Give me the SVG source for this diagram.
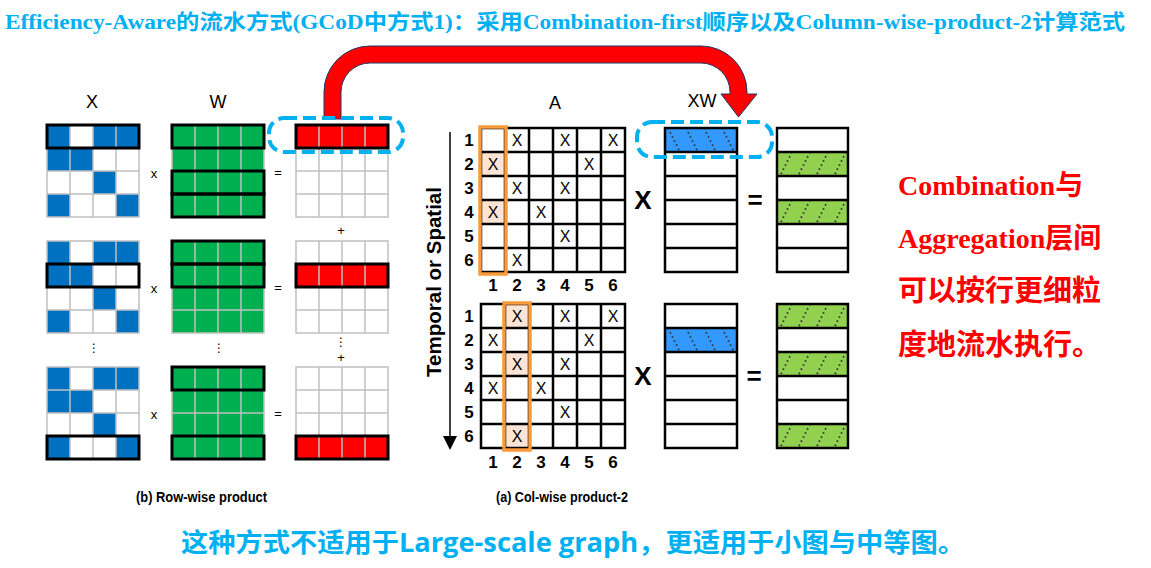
<svg xmlns="http://www.w3.org/2000/svg" xmlns:xlink="http://www.w3.org/1999/xlink" width="1151" height="568" viewBox="0 0 1151 568">
<style>
.lbl{font-family:"Liberation Sans",Arial,sans-serif;font-size:18px;fill:#000;text-anchor:middle}
.op{font-family:"Liberation Sans",Arial,sans-serif;font-size:13px;text-anchor:middle;dominant-baseline:central}
.dots{font-family:"DejaVu Sans",sans-serif;font-size:12px;text-anchor:middle;dominant-baseline:central;fill:#000}
.out{fill:none;stroke:#000;stroke-width:3}
.ax{font-family:"Liberation Sans",Arial,sans-serif;font-size:16px;text-anchor:middle;dominant-baseline:central}
.num{font-family:"Liberation Sans",Arial,sans-serif;font-size:17px;font-weight:bold;text-anchor:middle;dominant-baseline:central}
.dash{fill:none;stroke:#00B0F0;stroke-width:4;stroke-dasharray:13 6}
.big{font-family:"Liberation Sans",Arial,sans-serif;font-size:26px;font-weight:bold;text-anchor:middle;dominant-baseline:central}
.red{font-weight:bold;fill:#FF0000;font-size:28px}
.cap{font-family:"Liberation Sans",Arial,sans-serif;font-size:14.5px;font-weight:bold;fill:#000}
.hl{fill:#FCE4D6}
.org{fill:none;stroke:#F79A3A;stroke-width:3.5}
</style>
<defs>
<g id="g4" fill="none" stroke="#C0C0C0" stroke-width="1.5">
<rect x="0" y="0" width="92" height="92"/>
<path d="M23,0V92M46,0V92M69,0V92M0,23H92M0,46H92M0,69H92"/>
</g>
<g id="xb" fill="#0070C0">
<rect x="0" y="0" width="23" height="23"/><rect x="46" y="0" width="23" height="23"/><rect x="69" y="0" width="23" height="23"/>
<rect x="0" y="23" width="23" height="23"/><rect x="23" y="23" width="23" height="23"/>
<rect x="46" y="46" width="23" height="23"/>
<rect x="0" y="69" width="23" height="23"/><rect x="69" y="69" width="23" height="23"/>
</g>
<g id="ag">
<rect x="0" y="0" width="144" height="144" fill="none" stroke="#000" stroke-width="2.5"/>
<path d="M24,0V144M48,0V144M72,0V144M96,0V144M120,0V144M0,24H144M0,48H144M0,72H144M0,96H144M0,120H144" fill="none" stroke="#000" stroke-width="2.5"/>
<text class="ax" x="36" y="12">X</text><text class="ax" x="84" y="12">X</text><text class="ax" x="132" y="12">X</text>
<text class="ax" x="12" y="36">X</text><text class="ax" x="108" y="36">X</text>
<text class="ax" x="36" y="60">X</text><text class="ax" x="84" y="60">X</text>
<text class="ax" x="12" y="84">X</text><text class="ax" x="60" y="84">X</text>
<text class="ax" x="84" y="108">X</text>
<text class="ax" x="36" y="132">X</text>
</g>
<g id="c6" fill="none" stroke="#000" stroke-width="2.5">
<rect x="0" y="0" width="72" height="144"/>
<path d="M0,24H72M0,48H72M0,72H72M0,96H72M0,120H72"/>
</g>
<g id="rl" class="num">
<text x="0" y="12">1</text><text x="0" y="36">2</text><text x="0" y="60">3</text><text x="0" y="84">4</text><text x="0" y="108">5</text><text x="0" y="132">6</text>
</g>
<g id="cl" class="num">
<text x="12" y="0">1</text><text x="36" y="0">2</text><text x="60" y="0">3</text><text x="84" y="0">4</text><text x="108" y="0">5</text><text x="132" y="0">6</text>
</g>
<pattern id="hb" patternUnits="userSpaceOnUse" width="18" height="24">
<rect width="18" height="24" fill="#3399FF"/>
<line x1="3" y1="0" x2="15" y2="24" stroke="#333" stroke-width="1.8" stroke-dasharray="1.6 3"/>
</pattern>
<pattern id="hg" patternUnits="userSpaceOnUse" width="18" height="24">
<rect width="18" height="24" fill="#92D050"/>
<line x1="15" y1="0" x2="3" y2="24" stroke="#333" stroke-width="1.8" stroke-dasharray="1.6 3"/>
</pattern>
</defs>
<rect width="1151" height="568" fill="#fff"/>

<g id="title">
<text x="5" y="29" textLength="1120" lengthAdjust="spacingAndGlyphs" style="font-family:'Liberation Serif','Noto Sans CJK SC',serif;font-size:21px;font-weight:bold;fill:#00B0F0">Efficiency-Aware的流水方式(GCoD中方式1)：采用Combination-first顺序以及Column-wise-product-2计算范式</text>
</g>

<g id="connectors">
<path id="red-arrow" d="M324,119 L324,92 A46,46 0 0 1 370,46 L701,46 A46,46 0 0 1 747,92 L747,94 L757,94 L738.5,117 L721,94 L730,94 L730,92 A29,29 0 0 0 701,63 L370,63 A29,29 0 0 0 341,92 L341,119 Z" fill="#FF0000" stroke="#1F3864" stroke-width="1"/>
<g id="time-axis">
<line x1="450" y1="132" x2="450" y2="437" stroke="#000" stroke-width="1.5"/>
<polygon points="443,436 457,436 450,450" fill="#000"/>
</g>
</g>

<g id="row-wise">
<text class="lbl" x="92" y="108">X</text>
<text class="lbl" x="218" y="108">W</text>
<g id="set1">
<rect x="47" y="125" width="92" height="92" fill="#fff"/><use xlink:href="#xb" x="47" y="125"/><use xlink:href="#g4" x="47" y="125"/>
<rect class="out" x="47" y="125" width="92" height="23"/>
<rect x="172" y="125" width="92" height="92" fill="#00B050"/><use xlink:href="#g4" x="172" y="125"/>
<rect class="out" x="172" y="125" width="92" height="23"/><rect class="out" x="172" y="171" width="92" height="23"/><rect class="out" x="172" y="194" width="92" height="23"/>
<rect x="296" y="125" width="92" height="23" fill="#FF0000"/><use xlink:href="#g4" x="296" y="125"/>
<rect class="out" x="296" y="125" width="92" height="23"/>
<text class="op" x="154" y="173">x</text><text class="op" x="278" y="172">=</text>
</g>
<text class="op" x="341" y="230">+</text>
<g id="set2">
<rect x="47" y="241" width="92" height="92" fill="#fff"/><use xlink:href="#xb" x="47" y="241"/><use xlink:href="#g4" x="47" y="241"/>
<rect class="out" x="47" y="264" width="92" height="23"/>
<rect x="172" y="241" width="92" height="92" fill="#00B050"/><use xlink:href="#g4" x="172" y="241"/>
<rect class="out" x="172" y="241" width="92" height="23"/><rect class="out" x="172" y="264" width="92" height="23"/>
<rect x="296" y="264" width="92" height="23" fill="#FF0000"/><use xlink:href="#g4" x="296" y="241"/>
<rect class="out" x="296" y="264" width="92" height="23"/>
<text class="op" x="154" y="288">x</text><text class="op" x="278" y="287">=</text>
</g>
<text class="dots" x="94" y="348">⋮</text>
<text class="dots" x="219" y="348">⋮</text>
<text class="dots" x="341" y="342">⋮</text>
<text class="op" x="341" y="357">+</text>
<g id="set3">
<rect x="47" y="367" width="92" height="92" fill="#fff"/><use xlink:href="#xb" x="47" y="367"/><use xlink:href="#g4" x="47" y="367"/>
<rect class="out" x="47" y="436" width="92" height="23"/>
<rect x="172" y="367" width="92" height="92" fill="#00B050"/><use xlink:href="#g4" x="172" y="367"/>
<rect class="out" x="172" y="367" width="92" height="23"/><rect class="out" x="172" y="436" width="92" height="23"/>
<rect x="296" y="436" width="92" height="23" fill="#FF0000"/><use xlink:href="#g4" x="296" y="367"/>
<rect class="out" x="296" y="436" width="92" height="23"/>
<text class="op" x="154" y="414">x</text><text class="op" x="278" y="413">=</text>
</g>
<rect class="dash" x="269" y="118" width="134" height="34" rx="15"/>
<text class="cap" x="136" y="502" textLength="131" lengthAdjust="spacingAndGlyphs">(b) Row-wise product</text>
</g>

<g id="col-wise">
<text class="lbl" x="555" y="109">A</text>
<text class="lbl" x="702" y="107">XW</text>
<text transform="translate(433,282) rotate(-90)" x="0" y="0" style="font-family:'Liberation Sans',Arial,sans-serif;font-size:20.5px;font-weight:bold;text-anchor:middle;dominant-baseline:central">Temporal or Spatial</text>
<g id="step1">
<rect class="hl" x="481" y="152" width="24" height="24"/><rect class="hl" x="481" y="200" width="24" height="24"/>
<use xlink:href="#ag" x="481" y="128"/>
<rect class="org" x="480" y="127" width="26" height="147"/>
<use xlink:href="#rl" x="469" y="128"/>
<use xlink:href="#cl" x="481" y="285"/>
<text class="big" x="643" y="200">X</text>
<rect x="0" y="0" width="72" height="24" fill="url(#hb)" transform="translate(665,128)"/>
<use xlink:href="#c6" x="665" y="128"/>
<rect class="dash" x="637" y="122" width="135" height="35" rx="15"/>
<text class="big" x="755" y="200">=</text>
<rect x="0" y="0" width="71" height="24" fill="url(#hg)" transform="translate(777,152)"/>
<rect x="0" y="0" width="71" height="24" fill="url(#hg)" transform="translate(777,200)"/>
<use xlink:href="#c6" x="777" y="128" transform="translate(777,0) scale(0.986,1) translate(-777,0)"/>
</g>
<g id="step2">
<rect class="hl" x="505" y="304" width="24" height="24"/><rect class="hl" x="505" y="352" width="24" height="24"/><rect class="hl" x="505" y="424" width="24" height="24"/>
<use xlink:href="#ag" x="481" y="304"/>
<rect class="org" x="504" y="303" width="26" height="147"/>
<use xlink:href="#rl" x="469" y="304"/>
<use xlink:href="#cl" x="481" y="462"/>
<text class="big" x="643" y="376">X</text>
<rect x="0" y="0" width="72" height="24" fill="url(#hb)" transform="translate(665,328)"/>
<use xlink:href="#c6" x="665" y="304"/>
<text class="big" x="754" y="376">=</text>
<rect x="0" y="0" width="71" height="24" fill="url(#hg)" transform="translate(777,304)"/>
<rect x="0" y="0" width="71" height="24" fill="url(#hg)" transform="translate(777,352)"/>
<rect x="0" y="0" width="71" height="24" fill="url(#hg)" transform="translate(777,424)"/>
<use xlink:href="#c6" x="777" y="304" transform="translate(777,0) scale(0.986,1) translate(-777,0)"/>
</g>
<text class="cap" x="496" y="502" textLength="132" lengthAdjust="spacingAndGlyphs">(a) Col-wise product-2</text>
</g>

<g id="note" style="font-family:'Liberation Serif','Noto Sans CJK SC',serif" class="red">
<text x="898" y="195">Combination与</text>
<text x="898" y="248">Aggregation层间</text>
<text x="898" y="301" style="font-family:'Noto Sans CJK SC',sans-serif;font-size:29px">可以按行更细粒</text>
<text x="898" y="355" style="font-family:'Noto Sans CJK SC',sans-serif;font-size:29px">度地流水执行。</text>
</g>

<g id="footer">
<text x="181" y="552" textLength="784" lengthAdjust="spacingAndGlyphs" style="font-family:'Open Sans','Noto Sans CJK SC',sans-serif;font-size:26px;font-weight:bold;fill:#00B0F0">这种方式不适用于Large-scale graph，更适用于小图与中等图。</text>
</g>
</svg>
